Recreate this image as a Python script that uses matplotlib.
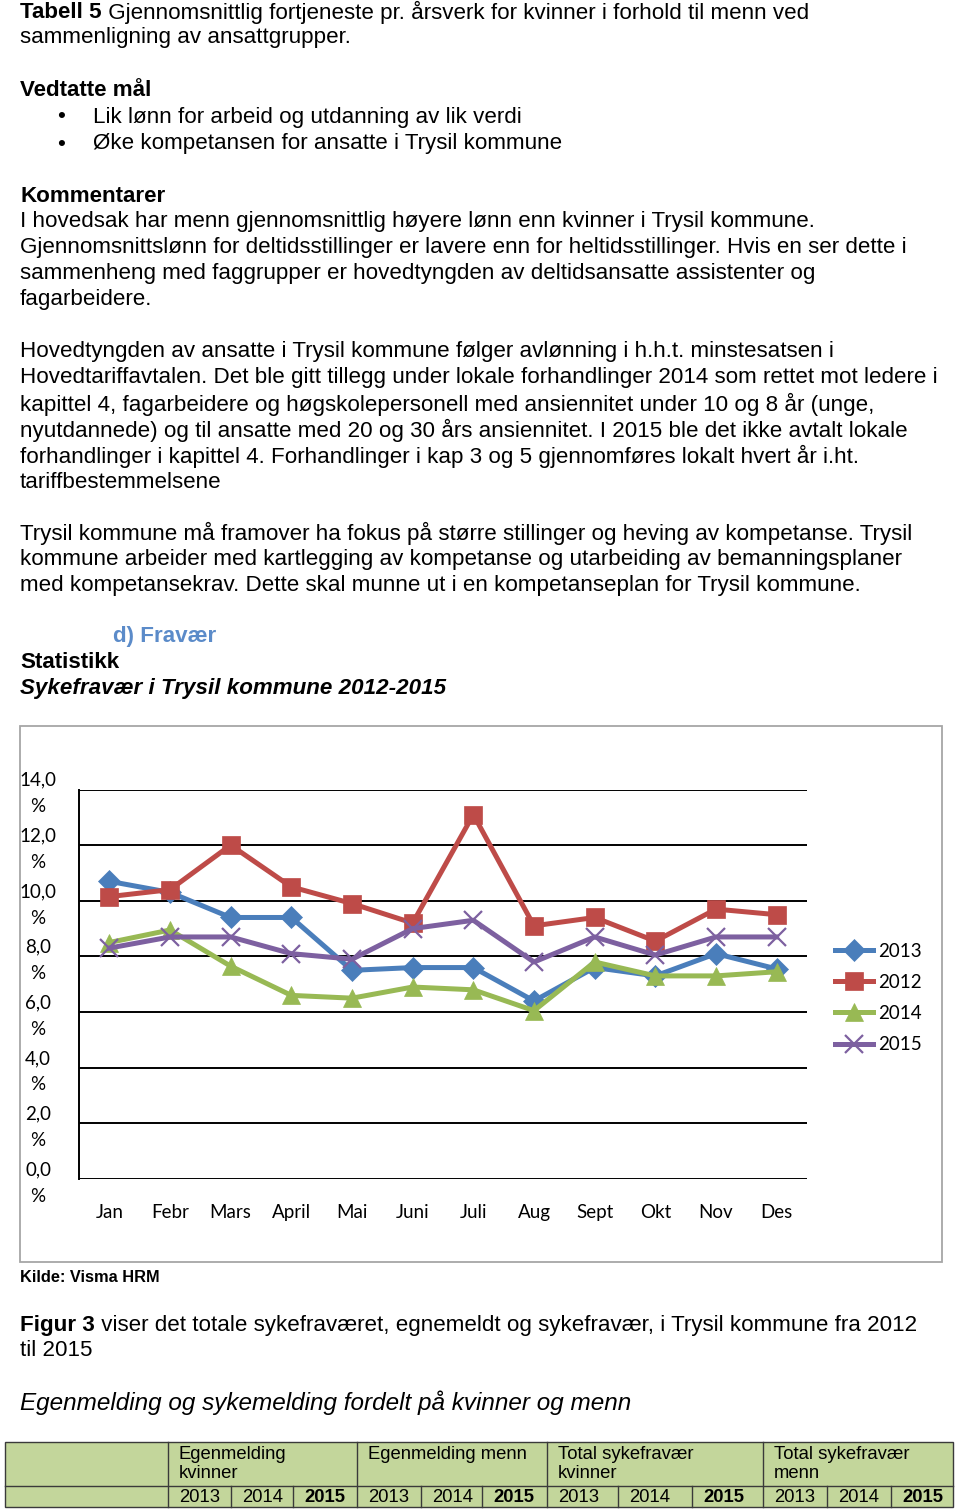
import matplotlib
matplotlib.use("Agg")
import matplotlib.pyplot as plt
from matplotlib.patches import Rectangle
from matplotlib.lines import Line2D
from matplotlib.transforms import ScaledTranslation

W, H = 960, 1510
DPI = 100

# ---------------- data ----------------
months = ["Jan", "Febr", "Mars", "April", "Mai", "Juni", "Juli", "Aug", "Sept", "Okt", "Nov", "Des"]
s2013 = [10.7, 10.3, 9.4, 9.4, 7.5, 7.6, 7.6, 6.4, 7.6, 7.3, 8.1, 7.55]
s2012 = [10.15, 10.4, 12.0, 10.5, 9.9, 9.2, 13.1, 9.1, 9.4, 8.55, 9.7, 9.5]
s2014 = [8.5, 8.95, 7.65, 6.6, 6.5, 6.9, 6.8, 6.05, 7.8, 7.3, 7.3, 7.45]
s2015 = [8.3, 8.7, 8.7, 8.1, 7.9, 9.0, 9.3, 7.8, 8.7, 8.05, 8.7, 8.7]
series_names = ["2013", "2012", "2014", "2015"]
yticks = [0, 2, 4, 6, 8, 10, 12, 14]
ytick_labels = ["0,0\n%", "2,0\n%", "4,0\n%", "6,0\n%", "8,0\n%", "10,0\n%", "12,0\n%", "14,0\n%"]

table_groups = ["Egenmelding\nkvinner", "Egenmelding menn", "Total sykefravær\nkvinner", "Total sykefravær\nmenn"]
table_years = ["2013", "2014", "2015"]

# ---------------- figure ----------------
fig = plt.figure(figsize=(W / DPI, H / DPI), dpi=DPI)
fig.patch.set_facecolor("white")

BODY = "Liberation Sans"
FS = 16.15


def fx(x):
    return x / W


def fy(y):
    return 1 - y / H


def txt(x, y, s, **kw):
    kw.setdefault("fontsize", FS)
    kw.setdefault("family", BODY)
    kw.setdefault("va", "center")
    kw.setdefault("ha", "left")
    return fig.text(fx(x), fy(y), s, **kw)


# first line: bold + normal
t = txt(20, 12, "Tabell 5", fontweight="bold")
fig.canvas.draw()
bb = t.get_window_extent()
txt(bb.x1, 12, " Gjennomsnittlig fortjeneste pr. årsverk for kvinner i forhold til menn ved")
txt(20, 38, "sammenligning av ansattgrupper.")

txt(20, 90, "Vedtatte mål", fontweight="bold")
txt(57, 117, "•")
txt(93, 117, "Lik lønn for arbeid og utdanning av lik verdi")
txt(57, 144, "•")
txt(93, 144, "Øke kompetansen for ansatte i Trysil kommune")

txt(20, 196, "Kommentarer", fontweight="bold")
body1 = [
    "I hovedsak har menn gjennomsnittlig høyere lønn enn kvinner i Trysil kommune.",
    "Gjennomsnittslønn for deltidsstillinger er lavere enn for heltidsstillinger. Hvis en ser dette i",
    "sammenheng med faggrupper er hovedtyngden av deltidsansatte assistenter og",
    "fagarbeidere.",
]
for i, s in enumerate(body1):
    txt(20, 222 + 26 * i, s)

body2 = [
    "Hovedtyngden av ansatte i Trysil kommune følger avlønning i h.h.t. minstesatsen i",
    "Hovedtariffavtalen. Det ble gitt tillegg under lokale forhandlinger 2014 som rettet mot ledere i",
    "kapittel 4, fagarbeidere og høgskolepersonell med ansiennitet under 10 og 8 år (unge,",
    "nyutdannede) og til ansatte med 20 og 30 års ansiennitet. I 2015 ble det ikke avtalt lokale",
    "forhandlinger i kapittel 4. Forhandlinger i kap 3 og 5 gjennomføres lokalt hvert år i.ht.",
    "tariffbestemmelsene",
]
for i, s in enumerate(body2):
    txt(20, 352 + 26 * i, s)

body3 = [
    "Trysil kommune må framover ha fokus på større stillinger og heving av kompetanse. Trysil",
    "kommune arbeider med kartlegging av kompetanse og utarbeiding av bemanningsplaner",
    "med kompetansekrav. Dette skal munne ut i en kompetanseplan for Trysil kommune.",
]
for i, s in enumerate(body3):
    txt(20, 533 + 26 * i, s)

txt(113, 636, "d) Fravær", fontweight="bold", color="#5b8bc9")
txt(20, 662, "Statistikk", fontweight="bold")
txt(20, 688, "Sykefravær i Trysil kommune 2012-2015", fontweight="bold", fontstyle="italic")

# chart frame
fig.patches.append(Rectangle((fx(20), fy(1262)), fx(942 - 20), (1262 - 726) / H,
                             transform=fig.transFigure, fill=False,
                             edgecolor="#a6a6a6", linewidth=1.3))

# ---------------- chart ----------------
L, R, T, B = 79, 807, 789.5, 1179
ax = fig.add_axes([fx(L), fy(B), (R - L) / W, (B - T) / H])
ax.set_xlim(-0.5, len(months) - 0.5)
ax.set_ylim(0, 14)
ax.set_yticks(yticks)
ax.set_yticklabels(ytick_labels, family="Lato", fontsize=13.5, ha="center",
                   multialignment="center", linespacing=1.68, va="center")
ax.set_xticks(range(len(months)))
ax.set_xticklabels(months, family="Lato", fontsize=13.5)
ax.tick_params(axis="y", length=0, pad=29.5)
ax.tick_params(axis="x", length=0, pad=18)
for sp in ["top", "right", "bottom"]:
    ax.spines[sp].set_visible(False)
ax.spines["left"].set_linewidth(1.4)
ax.spines["left"].set_color("black")
ax.yaxis.grid(True, color="black", linewidth=1.4)
ax.set_axisbelow(True)

# nudge y tick labels down a few pixels
shift = ScaledTranslation(0, -4 / DPI, fig.dpi_scale_trans)
for tk in ax.yaxis.get_major_ticks():
    tk.label1.set_transform(tk.label1.get_transform() + shift)

styles = [
    (s2013, "#4a7ebb", "D", 11, None),
    (s2012, "#be4b48", "s", 13, None),
    (s2014, "#98b954", "^", 13, None),
    (s2015, "#7d60a0", "x", 13, 1.6),
]
x = list(range(len(months)))
handles = []
for (vals, col, mk, ms, mew), name in zip(styles, series_names):
    kw = dict(color=col, linewidth=3.6, marker=mk, markersize=ms,
              markerfacecolor=col, markeredgecolor=col, label=name)
    kw["markeredgewidth"] = mew if mew else 0.5
    h, = ax.plot(x, vals, **kw)
    handles.append(h)

leg = fig.legend(handles=handles, labels=series_names, loc="center left",
                 bbox_to_anchor=(fx(826), fy(998)), frameon=False,
                 prop={"family": "Lato", "size": 13.5}, handlelength=2.0,
                 handletextpad=0.3, labelspacing=0.75, borderpad=0)

# ---------------- below chart ----------------
txt(20, 1277, "Kilde: Visma HRM", fontweight="bold", fontsize=11.8)
t = txt(20, 1325, "Figur 3", fontweight="bold")
fig.canvas.draw()
bb = t.get_window_extent()
txt(bb.x1, 1325, " viser det totale sykefraværet, egnemeldt og sykefravær, i Trysil kommune fra 2012")
txt(20, 1351, "til 2015")
txt(20, 1403, "Egenmelding og sykemelding fordelt på kvinner og menn", fontstyle="italic",
    fontsize=17.5)

# ---------------- table ----------------
col_edges = [5, 168, 231, 293, 357, 421, 482, 547, 618, 692, 763, 827, 891, 953]
row_top, row_mid, row_bot = 1442, 1486, 1507
green = "#c3d69b"
fig.patches.append(Rectangle((fx(col_edges[0]), fy(row_bot)),
                             fx(col_edges[-1] - col_edges[0]), (row_bot - row_top) / H,
                             transform=fig.transFigure, facecolor=green,
                             edgecolor="#3a3a3a", linewidth=1.0))


def hline(x0, x1, y):
    fig.lines.append(Line2D([fx(x0), fx(x1)], [fy(y), fy(y)], transform=fig.transFigure,
                            color="#3a3a3a", linewidth=1.0))


def vline(x, y0, y1):
    fig.lines.append(Line2D([fx(x), fx(x)], [fy(y0), fy(y1)], transform=fig.transFigure,
                            color="#3a3a3a", linewidth=1.0))


hline(col_edges[0], col_edges[-1], row_mid)
for k, e in enumerate(col_edges[1:-1]):
    if (k % 3) == 0:
        vline(e, row_top, row_bot)
    else:
        vline(e, row_mid, row_bot)

for g, label in enumerate(table_groups):
    x0 = col_edges[1 + 3 * g]
    fig.text(fx(x0 + 11), fy(1446), label, family=BODY, fontsize=13.3, va="top", ha="left",
             linespacing=1.12)
    for j, yr in enumerate(table_years):
        xc = col_edges[1 + 3 * g + j]
        fig.text(fx(xc + 11), fy(1497), yr, family=BODY, fontsize=13.3, va="center", ha="left",
                 fontweight="bold" if yr == "2015" else "normal")

fig.savefig("out.png", dpi=DPI, facecolor="white")
